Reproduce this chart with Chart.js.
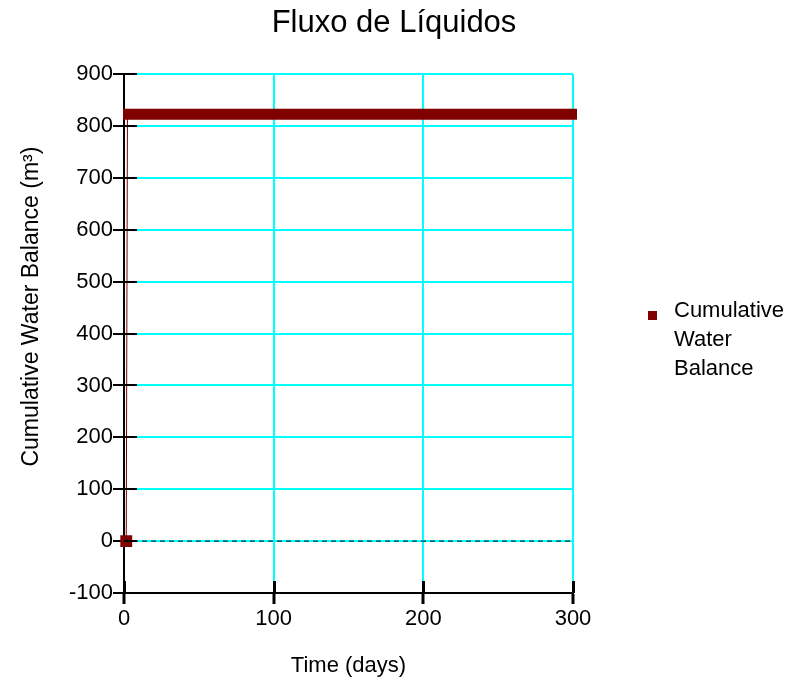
<!DOCTYPE html>
<html>
<head>
<meta charset="utf-8">
<title>Fluxo de Líquidos</title>
<script src="https://cdn.jsdelivr.net/npm/chart.js@4/dist/chart.umd.min.js"></script>
<style>
  html, body { margin: 0; padding: 0; background: #ffffff; }
  #wrap { width: 788px; height: 685px; }
</style>
</head>
<body>
<div id="wrap"><canvas id="chart" width="788" height="685"></canvas></div>
<script>
// Cumulative water balance series (days, m³)
const riseDays = [1.5, 2.3];
const riseValues = [0, 823];
const plateauDays = [3, 299];
const plateauValues = [823, 823];
const zeroDays = [0, 300];
const zeroValues = [0, 0];

const xTicks = [0, 100, 200, 300];
const yTicks = [-100, 0, 100, 200, 300, 400, 500, 600, 700, 800, 900];

const seriesLabel = 'Cumulative Water Balance';
const yAxisLabel = 'Cumulative Water Balance (m³)';
const seriesColor = '#800000';
const gridColor = '#00ffff';
const FONT = '"Liberation Sans", Arial, sans-serif';

const toPoints = (xs, ys) => xs.map((x, i) => ({ x: x, y: ys[i] }));

// Black tick marks that cross both axes (the inner half is drawn here)
const crossTicks = {
  id: 'crossTicks',
  afterDatasetsDraw(chart) {
    const { ctx, scales: { x, y } } = chart;
    const x0 = Math.round(x.getPixelForValue(0));
    const yb = Math.round(y.getPixelForValue(-100));
    ctx.save();
    ctx.strokeStyle = '#000';
    ctx.lineWidth = 2;
    yTicks.forEach(v => {
      const py = Math.round(y.getPixelForValue(v));
      ctx.beginPath();
      ctx.moveTo(x0, py);
      ctx.lineTo(x0 + 13, py);
      ctx.stroke();
    });
    ctx.lineWidth = 3;
    xTicks.forEach(v => {
      const px = Math.round(x.getPixelForValue(v)) + 0.5;
      ctx.beginPath();
      ctx.moveTo(px, yb);
      ctx.lineTo(px, yb - 12);
      ctx.stroke();
    });
    ctx.restore();
  }
};

// Rotated y-axis caption, sitting a little above the plot's middle
const yCaption = {
  id: 'yCaption',
  afterDraw(chart) {
    const { ctx, chartArea } = chart;
    const cy = (chartArea.top + chartArea.bottom) / 2 - 27;
    ctx.save();
    ctx.translate(32, cy);
    ctx.rotate(-Math.PI / 2);
    ctx.font = '23px ' + FONT;
    ctx.fillStyle = '#000';
    ctx.textAlign = 'center';
    ctx.textBaseline = 'middle';
    ctx.fillText(yAxisLabel, 0, 0);
    ctx.restore();
  }
};

// Legend at the right with a square marker and word-wrapped label
const sideLegend = {
  id: 'sideLegend',
  afterDraw(chart) {
    const ds = chart.data.datasets.find(d => d.showInLegend);
    if (!ds) return;
    const ctx = chart.ctx;
    ctx.save();
    ctx.font = '22px ' + FONT;
    ctx.fillStyle = ds.backgroundColor;
    ctx.fillRect(648, 311, 9, 9);
    const words = ds.label.split(' ');
    const lines = [];
    let cur = '';
    words.forEach(w => {
      const t = cur ? cur + ' ' + w : w;
      if (ctx.measureText(t).width > 112 && cur) { lines.push(cur); cur = w; } else { cur = t; }
    });
    if (cur) lines.push(cur);
    ctx.fillStyle = '#000';
    ctx.textBaseline = 'middle';
    ctx.textAlign = 'left';
    lines.forEach((l, i) => ctx.fillText(l, 674, 311 + i * 29));
    ctx.restore();
  }
};

new Chart(document.getElementById('chart'), {
  type: 'line',
  data: {
    datasets: [
      {
        label: 'zero',
        data: toPoints(zeroDays, zeroValues),
        borderColor: '#000',
        borderWidth: 1,
        borderDash: [5, 4],
        pointRadius: 0,
        showInLegend: false
      },
      {
        label: seriesLabel + ' plateau',
        data: toPoints(plateauDays, plateauValues),
        borderColor: seriesColor,
        borderWidth: 11,
        borderCapStyle: 'square',
        pointRadius: 0,
        clip: 8,
        showInLegend: false
      },
      {
        label: seriesLabel,
        data: toPoints(riseDays, riseValues),
        borderColor: seriesColor,
        backgroundColor: seriesColor,
        borderWidth: 1,
        pointStyle: 'rect',
        pointRadius: ctx => (ctx.dataIndex === 0 ? 8.4 : 0),
        pointBorderWidth: 0,
        pointBackgroundColor: seriesColor,
        clip: 8,
        showInLegend: true
      }
    ]
  },
  options: {
    responsive: false,
    animation: false,
    devicePixelRatio: 1,
    layout: { padding: 0 },
    plugins: {
      legend: { display: false },
      tooltip: { enabled: false },
      title: {
        display: true,
        text: 'Fluxo de Líquidos',
        color: '#000',
        font: { family: FONT, size: 31, weight: 'normal', lineHeight: 1.2 },
        padding: { top: 5, bottom: 32 }
      }
    },
    scales: {
      x: {
        type: 'linear',
        min: 0,
        max: 300,
        afterBuildTicks: s => { s.ticks = xTicks.map(v => ({ value: v })); },
        afterFit: s => { s.height = 92; },
        ticks: { color: '#000', font: { family: FONT, size: 22 }, padding: 2, maxRotation: 0 },
        grid: { color: gridColor, lineWidth: 2, tickColor: '#000', tickLength: 11, tickWidth: 3 },
        border: { color: '#000', width: 2 },
        title: {
          display: true,
          text: 'Time (days)',
          color: '#000',
          font: { family: FONT, size: 22 },
          padding: { top: 0, bottom: 6 }
        }
      },
      y: {
        type: 'linear',
        min: -100,
        max: 900,
        afterBuildTicks: s => { s.ticks = yTicks.map(v => ({ value: v })); },
        afterFit: s => { s.width = 124; },
        ticks: { color: '#000', font: { family: FONT, size: 22 }, padding: 0 },
        grid: { color: gridColor, lineWidth: 2, tickColor: '#000', tickLength: 11, tickWidth: 2 },
        border: { color: '#000', width: 2 },
        title: { display: false }
      },
      // empty right-hand strip that holds the legend
      legendSpace: {
        type: 'linear',
        position: 'right',
        display: true,
        min: 0,
        max: 1,
        afterFit: s => { s.width = 215; },
        ticks: { display: false },
        grid: { display: false, drawOnChartArea: false },
        border: { display: false }
      }
    }
  },
  plugins: [crossTicks, yCaption, sideLegend]
});
</script>
</body>
</html>
